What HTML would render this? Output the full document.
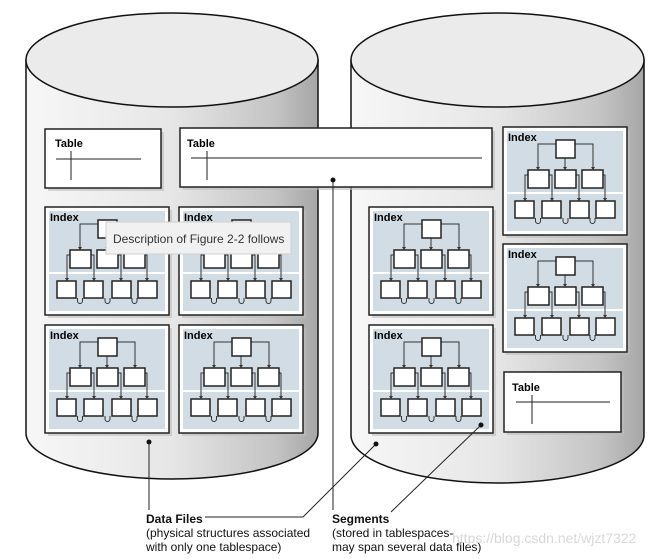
<!DOCTYPE html>
<html><head><meta charset="utf-8"><style>
html,body{margin:0;padding:0;background:#fff;}
svg{display:block;font-family:"Liberation Sans",sans-serif;}
</style></head><body>
<svg width="667" height="559" viewBox="0 0 667 559" xmlns="http://www.w3.org/2000/svg">
<defs>
<linearGradient id="cyl" x1="0" x2="1" y1="0" y2="0">
<stop offset="0" stop-color="#f7f7f7"/><stop offset="0.5" stop-color="#e6e6e6"/><stop offset="0.85" stop-color="#c4c4c4"/><stop offset="1" stop-color="#a6a6a6"/>
</linearGradient>
<marker id="ar" markerWidth="5" markerHeight="5" refX="2.5" refY="4" orient="auto" markerUnits="userSpaceOnUse">
<path d="M0,0 L5,0 L2.5,4 z" transform="rotate(0)" fill="#333"/>
</marker>
<g id="idx">
<rect x="3" y="3" width="124" height="108" fill="#bdbdbd" opacity="0.6"/>
<rect x="0" y="0" width="124" height="108" fill="#fff" stroke="#222" stroke-width="1.5"/>
<rect x="4" y="4" width="116" height="100" fill="#d1dce4"/>
<line x1="4" y1="66" x2="120" y2="66" stroke="#fff" stroke-width="2"/>
<g fill="none" stroke="#333" stroke-width="1">
<path d="M53 17 H35 V42"/><path d="M72 17 H90 V42"/><path d="M62 31 V42"/>
<path d="M25 48 H22 V73"/><path d="M46 48 H49 V73"/><path d="M73 48 H76 V73"/><path d="M100 48 H102 V73"/>
<path d="M32.5 91 V94 a2.5 2.5 0 0 0 5 0 V91"/><path d="M60 91 V94 a2.5 2.5 0 0 0 5 0 V91"/><path d="M87 91 V94 a2.5 2.5 0 0 0 5 0 V91"/>
</g>
<g fill="#333">
<path d="M33 40 h4 l-2 3z"/><path d="M88 40 h4 l-2 3z"/><path d="M60 40 h4 l-2 3z"/>
<path d="M20 71 h4 l-2 3z"/><path d="M47 71 h4 l-2 3z"/><path d="M74 71 h4 l-2 3z"/><path d="M100 71 h4 l-2 3z"/>
</g>
<g fill="#fff" stroke="#222" stroke-width="1.5">
<rect x="53" y="13" width="19" height="18"/>
<rect x="25" y="43" width="21" height="18"/><rect x="52" y="43" width="21" height="18"/><rect x="79" y="43" width="21" height="18"/>
<rect x="12" y="74" width="19" height="17"/><rect x="39" y="74" width="19" height="17"/><rect x="67" y="74" width="19" height="17"/><rect x="93" y="74" width="19" height="17"/>
</g>
</g>
</defs>

<!-- cylinders -->
<path d="M26 60 V433 A146 46 0 0 0 318 433 V60 Z" fill="url(#cyl)" stroke="#111" stroke-width="1.5"/>
<ellipse cx="172" cy="60" rx="146" ry="47" fill="#ebebeb" stroke="#111" stroke-width="1.5"/>
<path d="M351 60 V435 A146.5 48 0 0 0 644 435 V60 Z" fill="url(#cyl)" stroke="#111" stroke-width="1.5"/>
<ellipse cx="497.5" cy="60" rx="146.5" ry="47" fill="#ebebeb" stroke="#111" stroke-width="1.5"/>

<!-- tables -->
<rect x="48" y="132" width="116" height="59" fill="#bdbdbd" opacity="0.6"/>
<rect x="45" y="129" width="116" height="59" fill="#fff" stroke="#222" stroke-width="1.5"/>
<text x="55" y="147" font-size="11" font-weight="bold">Table</text>
<line x1="56" y1="159" x2="141" y2="159" stroke="#222"/><line x1="71" y1="151" x2="71" y2="180" stroke="#222"/>

<rect x="183" y="131" width="312" height="59" fill="#bdbdbd" opacity="0.6"/>
<rect x="180" y="128" width="312" height="59" fill="#fff" stroke="#222" stroke-width="1.5"/>
<text x="187" y="147" font-size="11" font-weight="bold">Table</text>
<line x1="191" y1="158" x2="482" y2="158" stroke="#222"/><line x1="207" y1="151" x2="207" y2="180" stroke="#222"/>

<rect x="507" y="375" width="117" height="60" fill="#bdbdbd" opacity="0.6"/>
<rect x="504" y="372" width="117" height="60" fill="#fff" stroke="#222" stroke-width="1.5"/>
<text x="512" y="391" font-size="11" font-weight="bold">Table</text>
<line x1="516" y1="402" x2="610" y2="402" stroke="#222"/><line x1="532" y1="395" x2="532" y2="424" stroke="#222"/>

<!-- indexes -->
<use href="#idx" x="45" y="207"/><use href="#idx" x="179" y="207"/>
<use href="#idx" x="45" y="325"/><use href="#idx" x="179" y="325"/>
<use href="#idx" x="369" y="207"/><use href="#idx" x="369" y="325"/>
<use href="#idx" x="503" y="127"/><use href="#idx" x="503" y="244"/>
<g font-size="11" font-weight="bold">
<text x="50" y="221">Index</text><text x="184" y="221">Index</text>
<text x="50" y="339">Index</text><text x="184" y="339">Index</text>
<text x="374" y="221">Index</text><text x="374" y="339">Index</text>
<text x="508" y="141">Index</text><text x="508" y="258">Index</text>
</g>

<!-- leaders -->
<g stroke="#222" stroke-width="1" fill="none">
<line x1="333" y1="180" x2="333" y2="510"/>
<line x1="149" y1="442" x2="149" y2="510"/>
<path d="M205 517 H303 L376 444"/>
<line x1="391" y1="512" x2="481" y2="425"/>
</g>
<g fill="#111">
<circle cx="333" cy="180" r="2.5"/><circle cx="149" cy="442" r="2.5"/><circle cx="376" cy="444" r="2.5"/><circle cx="481" cy="425" r="2.5"/>
</g>

<g font-size="12" fill="#111">
<text x="146" y="523" font-weight="bold">Data Files</text>
<text x="146" y="537">(physical structures associated</text>
<text x="146" y="551">with only one tablespace)</text>
<text x="332" y="523" font-weight="bold">Segments</text>
<text x="332" y="537">(stored in tablespaces-</text>
<text x="332" y="551">may span several data files)</text>
</g>
<text x="452" y="543" font-size="14" fill="#d8d8d8">https://blog.csdn.net/wjzt7322</text>

<!-- tooltip -->
<rect x="106" y="222" width="185" height="32" fill="#f1f1f1" stroke="#cfcfcf"/>
<text x="113" y="243" font-size="12" fill="#333">Description of Figure 2-2 follows</text>
</svg>
</body></html>
